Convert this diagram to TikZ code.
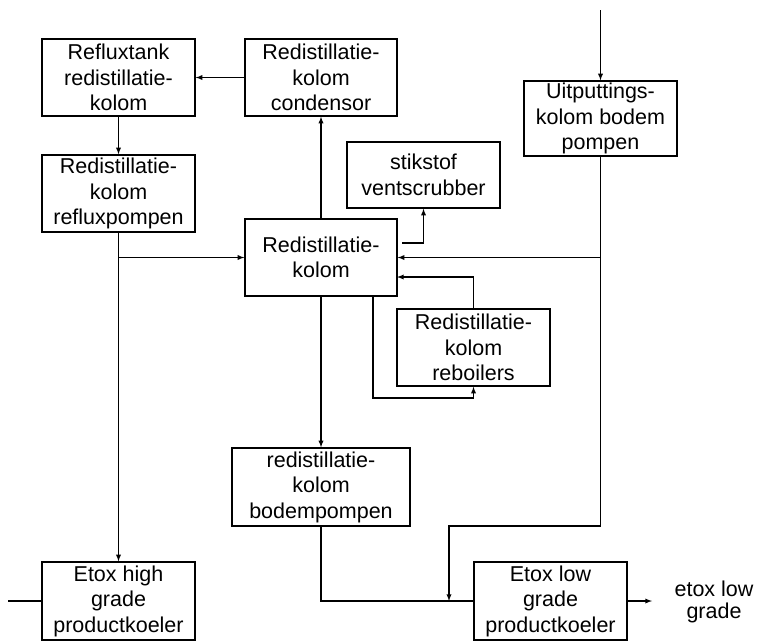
\documentclass[tikz,border=0pt]{standalone}
\usepackage{fontspec}
\setmainfont{Liberation Sans}
\begin{document}
\begin{tikzpicture}[x=1pt,y=-1pt]
				% Styles
				\tikzstyle{pijl}=[->,>=latex,line width=1.3pt]
				\tikzstyle{lijn}=[-,line width=1.3pt]
				\tikzstyle{blok}=[draw,line width=1.3pt,align=center,inner sep=0pt,minimum width=153pt,minimum height=77pt,font=\fontsize{21.5}{25.5}\selectfont]
				\tikzstyle{tekst}=[align=center,font=\fontsize{21.5}{22}\selectfont]
				% Afmetingen
				\def\KolomA{118.5}
				\def\KolomB{321}
				\useasboundingbox (0,0) rectangle (757,641);
				% Blokken
				\node[blok] (tank) at (\KolomA,77.5) {Refluxtank\\redistillatie-\\kolom};
				\node[blok,minimum width=152pt] (cond) at (\KolomB,77.5) {Redistillatie-\\kolom\\condensor};
				\node[blok] (reflux) at (\KolomA,193.5) {Redistillatie-\\kolom\\refluxpompen};
				\node[blok,minimum height=66pt] (scrub) at (423.5,175) {stikstof\\ventscrubber};
				\node[blok,minimum width=152pt] (kolom) at (\KolomB,257.5) {Redistillatie-\\kolom};
				\node[blok] (reb) at (473.5,347.5) {Redistillatie-\\kolom\\reboilers};
				\node[blok,minimum height=75pt] (uitp) at (600.5,118.5) {Uitputtings-\\kolom bodem\\pompen};
				\node[blok,minimum width=178pt,minimum height=78pt] (bodem) at (\KolomB,487) {redistillatie-\\kolom\\bodempompen};
				\node[blok,minimum height=78pt] (high) at (\KolomA,601) {Etox high\\grade\\productkoeler};
				\node[blok,minimum height=78pt] (low) at (550.5,601) {Etox low\\grade\\productkoeler};
				\node[tekst] (uit) at (714,602) {etox low\\grade};
				% Hulppunten
				\coordinate (in) at (600.5,10);
				\coordinate (links) at (8,601);
				\coordinate (rj) at (reflux.south |- kolom.west);
				\coordinate (uj) at (uitp.south |- kolom.east);
				\coordinate (ub) at (600.5,526);
				\coordinate (lm) at (449,601);
				\coordinate (vs) at (402,243);
				\coordinate (rk) at (397,277);
				\coordinate (ko) at (373,296);
				\coordinate (kb) at (373,398);
				\coordinate (pu) at (652,601);
				% Verbindingen
				\draw[pijl] (cond.west)--(tank.east);
				\draw[pijl] (tank.south)--(reflux.north);
				\draw[pijl] (reflux.south)--(high.north);
				\draw[pijl] (rj)--(kolom.west);
				\draw[pijl] (kolom.north)--(cond.south);
				\draw[pijl] (vs)-|(scrub.south);
				\draw[pijl] (in)--(uitp.north);
				\draw[pijl] (uj)--(kolom.east);
				\draw[pijl] (uitp.south)--(ub)-|(lm);
				\draw[pijl] (reb.north)|-(rk);
				\draw[pijl] (ko)--(kb)-|(reb.south);
				\draw[pijl] (kolom.south)--(bodem.north);
				\draw[lijn] (bodem.south)|-(low.west);
				\draw[pijl] (low.east)--(pu);
				\draw[lijn] (links)--(high.west);
			\end{tikzpicture}
\end{document}
